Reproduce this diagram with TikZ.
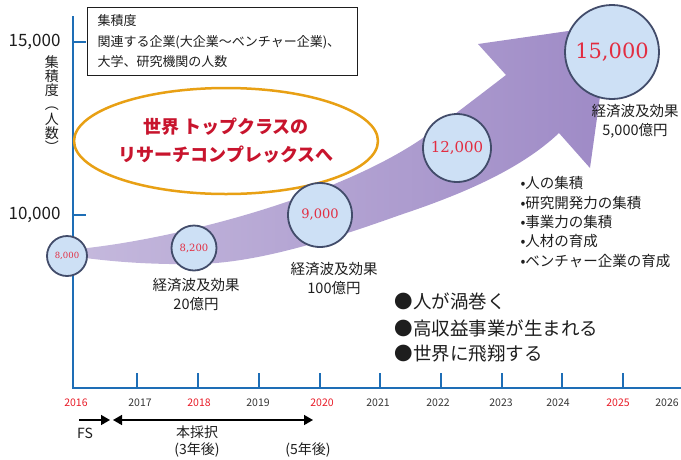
\documentclass[tikz,border=0pt]{standalone}
\usepackage{fontspec}
\setmainfont{Noto Sans CJK JP}
\newfontfamily\numfont{DejaVu Serif}
\usetikzlibrary{arrows.meta,shapes.geometric}
\definecolor{axisblue}{RGB}{30,110,182}
\definecolor{yearred}{RGB}{232,28,40}
\definecolor{bandpurple}{RGB}{158,138,198}
\definecolor{bubblefill}{RGB}{205,224,245}
\definecolor{bubbleline}{RGB}{66,76,106}
\definecolor{ellorange}{RGB}{232,160,20}
\definecolor{titlered}{RGB}{200,20,45}
\definecolor{numred}{RGB}{226,45,65}
\definecolor{txt}{RGB}{30,30,30}
\tikzset{
  axisline/.style={axisblue, line width=2.6pt},
  yearlab/.style={font=\fontsize{10.5}{12}\selectfont, text=txt!90},
  yearhot/.style={yearlab, text=yearred},
  ynum/.style={font=\fontsize{17}{20}\selectfont, anchor=east, text=txt},
  bubble/.style={circle, draw=bubbleline, fill=bubblefill, line width=1.8pt, inner sep=0pt, text=numred},
  lab/.style={font=\fontsize{14.5}{19}\selectfont, align=center, text=txt},
  bul/.style={font=\fontsize{14.5}{19.3}\selectfont, anchor=west, text=txt},
  biglist/.style={font=\fontsize{18.5}{26.5}\selectfont, anchor=west, text=txt},
  tline/.style={line width=1.5pt, black, >={Triangle[length=9pt,width=10pt]}},
  smalllab/.style={font=\fontsize{14}{17}\selectfont, align=center, text=txt}
}
\begin{document}
\begin{tikzpicture}[x=1pt,y=-1pt]
\useasboundingbox (0,0) rectangle (681,459);

% growth band arrow
\shade[left color=bandpurple!60!white, right color=bandpurple]
  (78,249) .. controls (170,240) and (330,200) .. (420,140)
  .. controls (450,118) and (480,95) .. (506,75)
  -- (478,44) -- (610,25) -- (590,168) -- (559,133)
  .. controls (520,170) and (460,195) .. (400,215)
  .. controls (330,240) and (260,262) .. (200,264)
  .. controls (140,265) and (100,260) .. (78,257) -- cycle;

% axes
\draw[axisline] (73,16) -- (73,388) -- (681,388);
\draw[axisline] (73,42) -- (86,42);
\draw[axisline] (73,215) -- (86,215);
\foreach \xx in {137,198,259,320,380,441,502,562,623}
  \draw[axisline] (\xx,388) -- (\xx,373);

\node[ynum] (y15) at (64,42) {15,000};
\node[ynum] (y10) at (64,215) {10,000};
\node[font=\fontsize{14}{14.2}\selectfont, align=center, text=txt] (ylab) at (52,104)
  {集\\積\\度\\︵\\人\\数\\︶};

% years
\node[yearhot] (yr16) at (76,403) {2016};
\node[yearlab] (yr17) at (140,403) {2017};
\node[yearhot] (yr18) at (199,403) {2018};
\node[yearlab] (yr19) at (258,403) {2019};
\node[yearhot] (yr20) at (322,403) {2020};
\node[yearlab] (yr21) at (378,403) {2021};
\node[yearlab] (yr22) at (438,403) {2022};
\node[yearlab] (yr23) at (501,403) {2023};
\node[yearlab] (yr24) at (558,403) {2024};
\node[yearhot] (yr25) at (618,403) {2025};
\node[yearlab] (yr26) at (667,403) {2026};

% timeline arrows
\coordinate (fsA) at (79,420);
\coordinate (fsB) at (110,420);
\coordinate (mA) at (113,420);
\coordinate (mB) at (313,420);
\draw[tline, ->] (fsA) -- (fsB);
\draw[tline, <->] (mA) -- (mB);
\node[smalllab] (fs) at (85,433) {FS};
\node[smalllab] (honsai) at (197,441) {本採択\\(3年後)};
\node[smalllab] (five) at (308,450) {(5年後)};

% legend box
\node[draw=txt, line width=1pt, anchor=north west, text width=250pt, minimum height=68pt,
      inner xsep=10pt, inner ysep=3pt, align=left, text=txt,
      font=\fontsize{13}{20.5}\selectfont] (legend) at (87,7)
  {集積度\\関連する企業(大企業～ベンチャー企業)、\\大学、研究機関の人数};

% goal ellipse
\node[ellipse, draw=ellorange, line width=2.5pt, fill=white, minimum width=242pt,
      minimum height=106pt, inner sep=0pt, align=center, text=titlered,
      font=\fontsize{18}{28}\selectfont\bfseries] (goal) at (226,141)
  {世界 トップクラスの\\リサーチコンプレックスへ};

% bubbles
\node[bubble, minimum size=40pt, font=\numfont\fontsize{8.5}{9}\selectfont] (b1) at (67,256) {8,000};
\node[bubble, minimum size=45pt, font=\numfont\fontsize{10}{10}\selectfont] (b2) at (194,248) {8,200};
\node[bubble, minimum size=64pt, font=\numfont\fontsize{13}{13}\selectfont] (b3) at (320,215) {9,000};
\node[bubble, minimum size=68pt, font=\numfont\fontsize{15}{15}\selectfont] (b4) at (457,148) {12,000};
\node[bubble, minimum size=94pt, font=\numfont\fontsize{21}{21}\selectfont] (b5) at (612,52) {15,000};

% effect labels
\node[lab] (e1) at (196,294) {経済波及効果\\20億円};
\node[lab] (e2) at (334,278) {経済波及効果\\100億円};
\node[lab] (e3) at (635,121) {経済波及効果\\5,000億円};

% bullet list
\node[bul] (p1) at (517,183) {•人の集積};
\node[bul] (p2) at (517,203) {•研究開発力の集積};
\node[bul] (p3) at (517,222) {•事業力の集積};
\node[bul] (p4) at (517,241) {•人材の育成};
\node[bul] (p5) at (517,261) {•ベンチャー企業の育成};

% big list
\node[biglist] (g1) at (391,301) {●人が渦巻く};
\node[biglist] (g2) at (391,328) {●高収益事業が生まれる};
\node[biglist] (g3) at (391,354) {●世界に飛翔する};
\end{tikzpicture}
\end{document}
